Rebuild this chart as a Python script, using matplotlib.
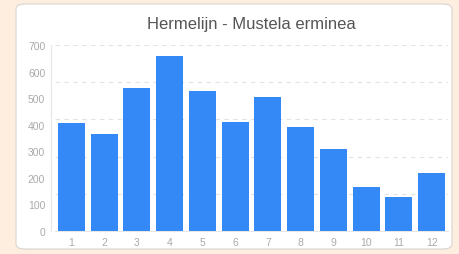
import matplotlib
matplotlib.use("Agg")
import matplotlib.pyplot as plt
from matplotlib.patches import FancyBboxPatch

months = ["1", "2", "3", "4", "5", "6", "7", "8", "9", "10", "11", "12"]
counts = [407, 366, 539, 659, 527, 412, 505, 390, 307, 167, 128, 217]
yticks = [0, 100, 200, 300, 400, 500, 600, 700]
gridlines = [140, 280, 420, 560, 700]
title = "Hermelijn - Mustela erminea"

plt.rcParams['font.family'] = ['Liberation Sans', 'DejaVu Sans']

fig = plt.figure(figsize=(4.6, 2.55), dpi=100)
fig.patch.set_facecolor('#fdeee0')

card = FancyBboxPatch((16/460, 5/255), 436/460, 245/255,
                      boxstyle="round,pad=0,rounding_size=0.02",
                      transform=fig.transFigure, facecolor='white',
                      edgecolor='#d8d4d0', linewidth=0.8, zorder=-5)
fig.patches.append(card)

ax = fig.add_axes([55/460, (255-232)/255, (448-55)/460, (232-46)/255])
ax.set_zorder(2)
ax.set_facecolor('none')
x = list(range(len(months)))
ax.bar(x, counts, width=0.83, color='#3589f6', zorder=3)
ax.set_xlim(-0.5, len(months) - 0.5)
ax.set_ylim(0, 700)
ax.set_xticks(x)
ax.set_xticklabels(months)
ax.set_yticks(yticks)
for g in gridlines:
    ax.axhline(g, color='#e2e2e2', linestyle=(0, (4, 4)), linewidth=0.8, zorder=1)
ax.tick_params(axis='both', colors='#aaaaaa', labelcolor='#aaaaaa', labelsize=7.5, length=0, pad=4)
for s in ['top', 'right']:
    ax.spines[s].set_visible(False)
ax.spines['left'].set_color('#e6e6e6')
ax.spines['bottom'].set_color('#e6e6e6')
ax.spines['left'].set_position(('outward', 3))
fig.text(251/460, 1 - 25/255, title, ha='center', va='center', fontsize=12, color='#555555', zorder=3)

fig.savefig('out.png', dpi=100, facecolor=fig.get_facecolor())
